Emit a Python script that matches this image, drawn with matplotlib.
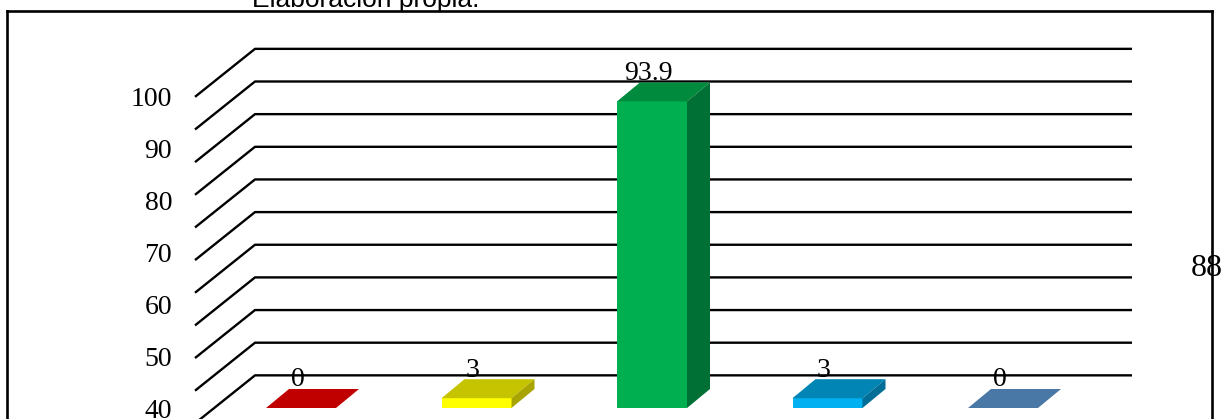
import matplotlib.pyplot as plt
from matplotlib.lines import Line2D

# bar values, left to right
values = [0, 3, 93.9, 3, 0]
front_colors = ['#C00000', '#FFFF00', '#00B050', '#00B0F0', '#4A78A6']
top_colors = ['#C00000', '#C6C300', '#008A3E', '#0085B5', '#4A78A6']
side_colors = ['#A00000', '#A9A500', '#007034', '#006E96', '#3D6690']

axis_ticks = [40, 50, 60, 70, 80, 90, 100]
grid_levels = list(range(0, 101, 10))

W, H = 1225, 419
fig = plt.figure(figsize=(W / 100, H / 100), dpi=100)

# main drawing area: x in category slots, y in value units
px_per_unit = 3.265
slot = 175.5
x0_px = 301.0
floor_px = 408.0
ax = fig.add_axes([0, 0, 1, 1])
ax.set_xlim(-x0_px / slot, (W - x0_px) / slot)
ax.set_ylim(-(H - floor_px) / px_per_unit, floor_px / px_per_unit)
ax.axis('off')

bar_w = 70 / slot
dx = 23 / slot
dy = 19 / px_per_unit
wall = 10.0
diag_dx = 60 / slot
diag_dy = 48 / px_per_unit
wall_left = (255 - x0_px) / slot
wall_right = (1132 - x0_px) / slot

# back wall gridlines with the slanted side wall
for g in grid_levels:
    yb = g + wall
    ax.plot([wall_left - diag_dx, wall_left, wall_right],
            [yb - diag_dy, yb, yb], color='black', lw=1.7,
            solid_capstyle='butt', zorder=1)

# 3d bars: front, top and side faces
for i, v in enumerate(values):
    l, r = i - bar_w / 2, i + bar_w / 2
    ax.fill([l, r, r, l], [0, 0, v, v], color=front_colors[i], lw=0, zorder=3)
    ax.fill([l, r, r + dx, l + dx], [v, v, v + dy, v + dy],
            color=top_colors[i], lw=0, zorder=3)
    ax.fill([r, r + dx, r + dx, r], [0, dy, v + dy, v],
            color=side_colors[i], lw=0, zorder=3)
    ax.text(i - 0.02, v + dy + 0.8, f'{v:g}', ha='center', va='baseline',
            family='Liberation Serif', fontsize=20, zorder=4)

# value axis labels
ax2 = fig.add_axes([172 / W, 0, 0.001, 1])
ax2.set_ylim(40 - (H - 408) / 5.2, 40 + 408 / 5.2)
ax2.set_yticks(axis_ticks)
ax2.set_yticklabels([str(t) for t in axis_ticks], family='Liberation Serif',
                    fontsize=20)
ax2.tick_params(axis='y', length=0, pad=0)
ax2.set_xticks([])
for s in ax2.spines.values():
    s.set_visible(False)
ax2.patch.set_visible(False)

# outer frame
fx0, fx1, fy0 = 7 / W, 1212 / W, 1 - 11 / H
for xs, ys in [([fx0, fx1], [fy0, fy0]), ([fx0, fx0], [fy0, -0.1]),
               ([fx1, fx1], [fy0, -0.1])]:
    fig.add_artist(Line2D(xs, ys, color='black', lw=1.9))

fig.text(252 / W, 1 - 6.5 / H, 'Elaboración propia.', family='Liberation Sans',
         fontsize=19, ha='left', va='baseline')
fig.text(1207 / W, 1 - 268.5 / H, '88', family='Liberation Serif', fontsize=23,
         ha='center', va='center')

fig.savefig('out.png', dpi=100)
